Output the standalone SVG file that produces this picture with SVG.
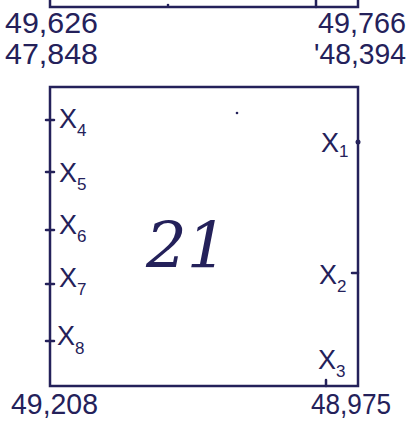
<svg xmlns="http://www.w3.org/2000/svg" width="414" height="428" viewBox="0 0 414 428">
<style>
.ln{stroke:#24215a;stroke-width:2.5;fill:none;stroke-linecap:round}
.num{font-family:"Liberation Sans",Arial,sans-serif;font-size:30px;fill:#24215a}
.lbl{font-family:"Liberation Sans",Arial,sans-serif;font-size:27px;fill:#24215a}
.sub{font-size:17px}
.big{font-family:"DejaVu Serif","Liberation Serif",serif;font-style:italic;font-size:64px;fill:#24215a}
</style>
<rect width="414" height="428" fill="#ffffff"/>
<g id="top-room">
<path class="ln" d="M50,0 V7 H358 V0"/>
<path class="ln" d="M316,0 V7"/>
<circle cx="168" cy="5" r="1.3" fill="#24215a"/>
</g>
<g id="labels-top">
<text class="num" x="5" y="33" textLength="93" lengthAdjust="spacingAndGlyphs">49,626</text>
<text class="num" x="318" y="33" textLength="88" lengthAdjust="spacingAndGlyphs">49,766</text>
<text class="num" x="5" y="64" textLength="93" lengthAdjust="spacingAndGlyphs">47,848</text>
<text class="num" x="314" y="64" textLength="92" lengthAdjust="spacingAndGlyphs">'48,394</text>
</g>
<g id="room-21">
<rect class="ln" x="50" y="87" width="308" height="299"/>
<text class="big" x="146" y="268">21</text>
<circle cx="237" cy="113" r="1.3" fill="#24215a"/>
</g>
<g id="ticks">
<path class="ln" d="M46,120 H54 M46,172 H54 M46,230 H54 M46,284 H54 M46,341 H54 M352,273 H358 M326,380 V386"/>
<circle cx="358" cy="142" r="2.5" fill="#24215a"/>
</g>
<g id="point-labels">
<text class="lbl" x="59" y="128">X<tspan class="sub" dy="8">4</tspan></text>
<text class="lbl" x="59" y="182">X<tspan class="sub" dy="8">5</tspan></text>
<text class="lbl" x="59" y="234">X<tspan class="sub" dy="8">6</tspan></text>
<text class="lbl" x="59" y="287">X<tspan class="sub" dy="8">7</tspan></text>
<text class="lbl" x="57" y="345">X<tspan class="sub" dy="9">8</tspan></text>
<text class="lbl" x="321" y="152">X<tspan class="sub" dy="5">1</tspan></text>
<text class="lbl" x="319" y="284">X<tspan class="sub" dy="8">2</tspan></text>
<text class="lbl" x="318" y="369">X<tspan class="sub" dy="8">3</tspan></text>
</g>
<g id="labels-bottom">
<text class="num" x="11" y="414" textLength="87" lengthAdjust="spacingAndGlyphs">49,208</text>
<text class="num" x="311" y="414" textLength="80" lengthAdjust="spacingAndGlyphs">48,975</text>
</g>
</svg>
